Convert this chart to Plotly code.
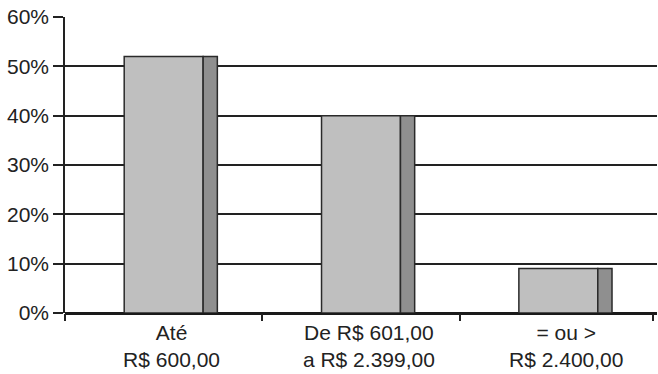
import plotly.graph_objects as go

categories = ["Até<br>R$ 600,00", "De R$ 601,00<br>a R$ 2.399,00", "= ou ><br>R$ 2.400,00"]
values = [52, 40, 9]
y_ticks = [0, 10, 20, 30, 40, 50, 60]
y_labels = [f"{v}%" for v in y_ticks]

xpos = list(range(len(categories)))

fig = go.Figure()
fig.add_trace(go.Bar(
    x=xpos, y=values, width=0.4, offset=-0.2,
    marker=dict(color="#bfbfbf", line=dict(color="#2a2a2a", width=1.5)),
    hoverinfo="skip", showlegend=False,
))
fig.add_trace(go.Bar(
    x=xpos, y=values, width=0.072, offset=0.2,
    marker=dict(color="#8f8f8f", line=dict(color="#2a2a2a", width=1.5)),
    hoverinfo="skip", showlegend=False,
))

fig.update_layout(
    width=658, height=374,
    margin=dict(l=65, r=1, t=17, b=61),
    barmode="overlay",
    plot_bgcolor="white", paper_bgcolor="white",
    font=dict(family="Liberation Sans, Arial, sans-serif", size=21, color="#222"),
    xaxis=dict(
        range=[-0.5, 2.5], tickmode="array", tickvals=[p + 0.04 for p in xpos], ticktext=categories,
        showgrid=False, showline=False, ticks="", zeroline=False,
        ticklabelstandoff=5, automargin=False,
        minor=dict(tickmode="array", tickvals=[-0.5, 0.5, 1.5, 2.48], ticks="outside",
                   ticklen=7, tickwidth=1.5, tickcolor="#222"),
        fixedrange=True,
    ),
    yaxis=dict(
        range=[0, 60], tickmode="array", tickvals=y_ticks, ticktext=y_labels,
        showgrid=True, gridcolor="#222", gridwidth=1.5,
        zeroline=True, zerolinecolor="#1a1a1a", zerolinewidth=3,
        showline=True, linecolor="#222", linewidth=1.5,
        ticks="outside", ticklen=10, tickwidth=1.5, tickcolor="#222",
        fixedrange=True, automargin=False,
    ),
)

fig.write_html("out.html")
